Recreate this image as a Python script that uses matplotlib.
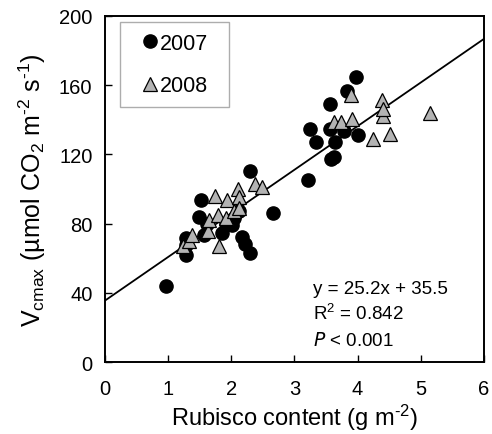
import numpy as np
import matplotlib.pyplot as plt

plt.rcParams["font.family"] = ["Liberation Sans", "DejaVu Sans"]
plt.rcParams["mathtext.default"] = "regular"

# 2007 (circles)
x07 = [0.97, 1.28, 1.28, 1.29, 1.49, 1.52, 1.57, 1.62, 1.85, 1.91, 2.01, 2.05,
       2.12, 2.17, 2.22, 2.30, 2.30, 2.66, 3.21, 3.24, 3.34, 3.57, 3.57, 3.58,
       3.63, 3.65, 3.79, 3.84, 3.97, 4.01]
y07 = [44.0, 62.0, 71.5, 67.5, 84.0, 93.5, 73.5, 79.5, 74.5, 80.0, 79.0, 83.5,
       87.0, 72.5, 68.0, 63.0, 110.5, 86.0, 105.0, 134.5, 127.0, 149.0, 134.5, 117.5,
       118.5, 127.0, 133.5, 156.5, 165.0, 131.0]

# 2008 (triangles)
x08 = [1.23, 1.33, 1.38, 1.63, 1.65, 1.75, 1.79, 1.80, 1.92, 1.93, 2.04, 2.10,
       2.12, 2.12, 2.38, 2.48, 3.63, 3.73, 3.89, 3.91, 4.25, 4.39, 4.40, 4.41,
       4.51, 5.14]
y08 = [67.0, 70.0, 73.5, 75.5, 82.0, 96.0, 85.0, 67.0, 83.0, 93.5, 87.0, 100.0,
       95.5, 89.0, 103.0, 101.0, 138.5, 139.0, 154.5, 140.5, 129.0, 151.5, 142.0, 146.0,
       131.5, 144.0]

slope, intercept = 25.2, 35.5

fig = plt.figure(figsize=(4.92, 4.35), dpi=100)
ax = fig.add_axes([0.2134, 0.1655, 0.77, 0.7955])

xl = np.array([0, 6])
ax.plot(xl, slope * xl + intercept, color="black", lw=1.3, zorder=1)
ax.plot(x07, y07, "o", color="black", ms=9.5, ls="none", zorder=2, label="2007")
ax.plot(x08, y08, "^", mfc="#b3b3b3", mec="black", mew=0.9, ms=10.5, ls="none",
        zorder=3, label="2008")

ax.set_xlim(0, 6)
ax.set_ylim(0, 200)
ax.set_xticks(range(0, 7))
ax.set_yticks(range(0, 201, 40))
ax.tick_params(direction="in", length=5, width=1, labelsize=14.5)
ax.tick_params(axis="x", pad=12)
ax.tick_params(axis="y", pad=9)
for s in ax.spines.values():
    s.set_linewidth(1.4)

hy = "\u2010"
ax.set_xlabel("Rubisco content (g m$^{" + hy + "2}$)", fontsize=17, labelpad=3)
ax.set_ylabel("V$_{cmax}$ (µmol CO$_2$ m$^{" + hy + "2}$ s$^{" + hy + "1}$)",
              fontsize=18, labelpad=8)

leg = ax.legend(loc="upper left", bbox_to_anchor=(0.04, 0.5, 0.288, 0.483),
                mode="expand", fontsize=15.5,
                frameon=True, fancybox=False, edgecolor="#999999",
                handletextpad=-0.45, handlelength=1.8, labelspacing=1.0,
                borderpad=0.5, borderaxespad=0)
leg.get_frame().set_linewidth(1.0)

ax.text(0.55, 0.2, "y = 25.2x + 35.5", transform=ax.transAxes, fontsize=13.5)
ax.text(0.55, 0.125, "R$^{2}$ = 0.842", transform=ax.transAxes, fontsize=13.5)
ax.text(0.55, 0.05, "$\\it{P}$ < 0.001", transform=ax.transAxes, fontsize=13.5)

fig.savefig("out.png", dpi=100)
